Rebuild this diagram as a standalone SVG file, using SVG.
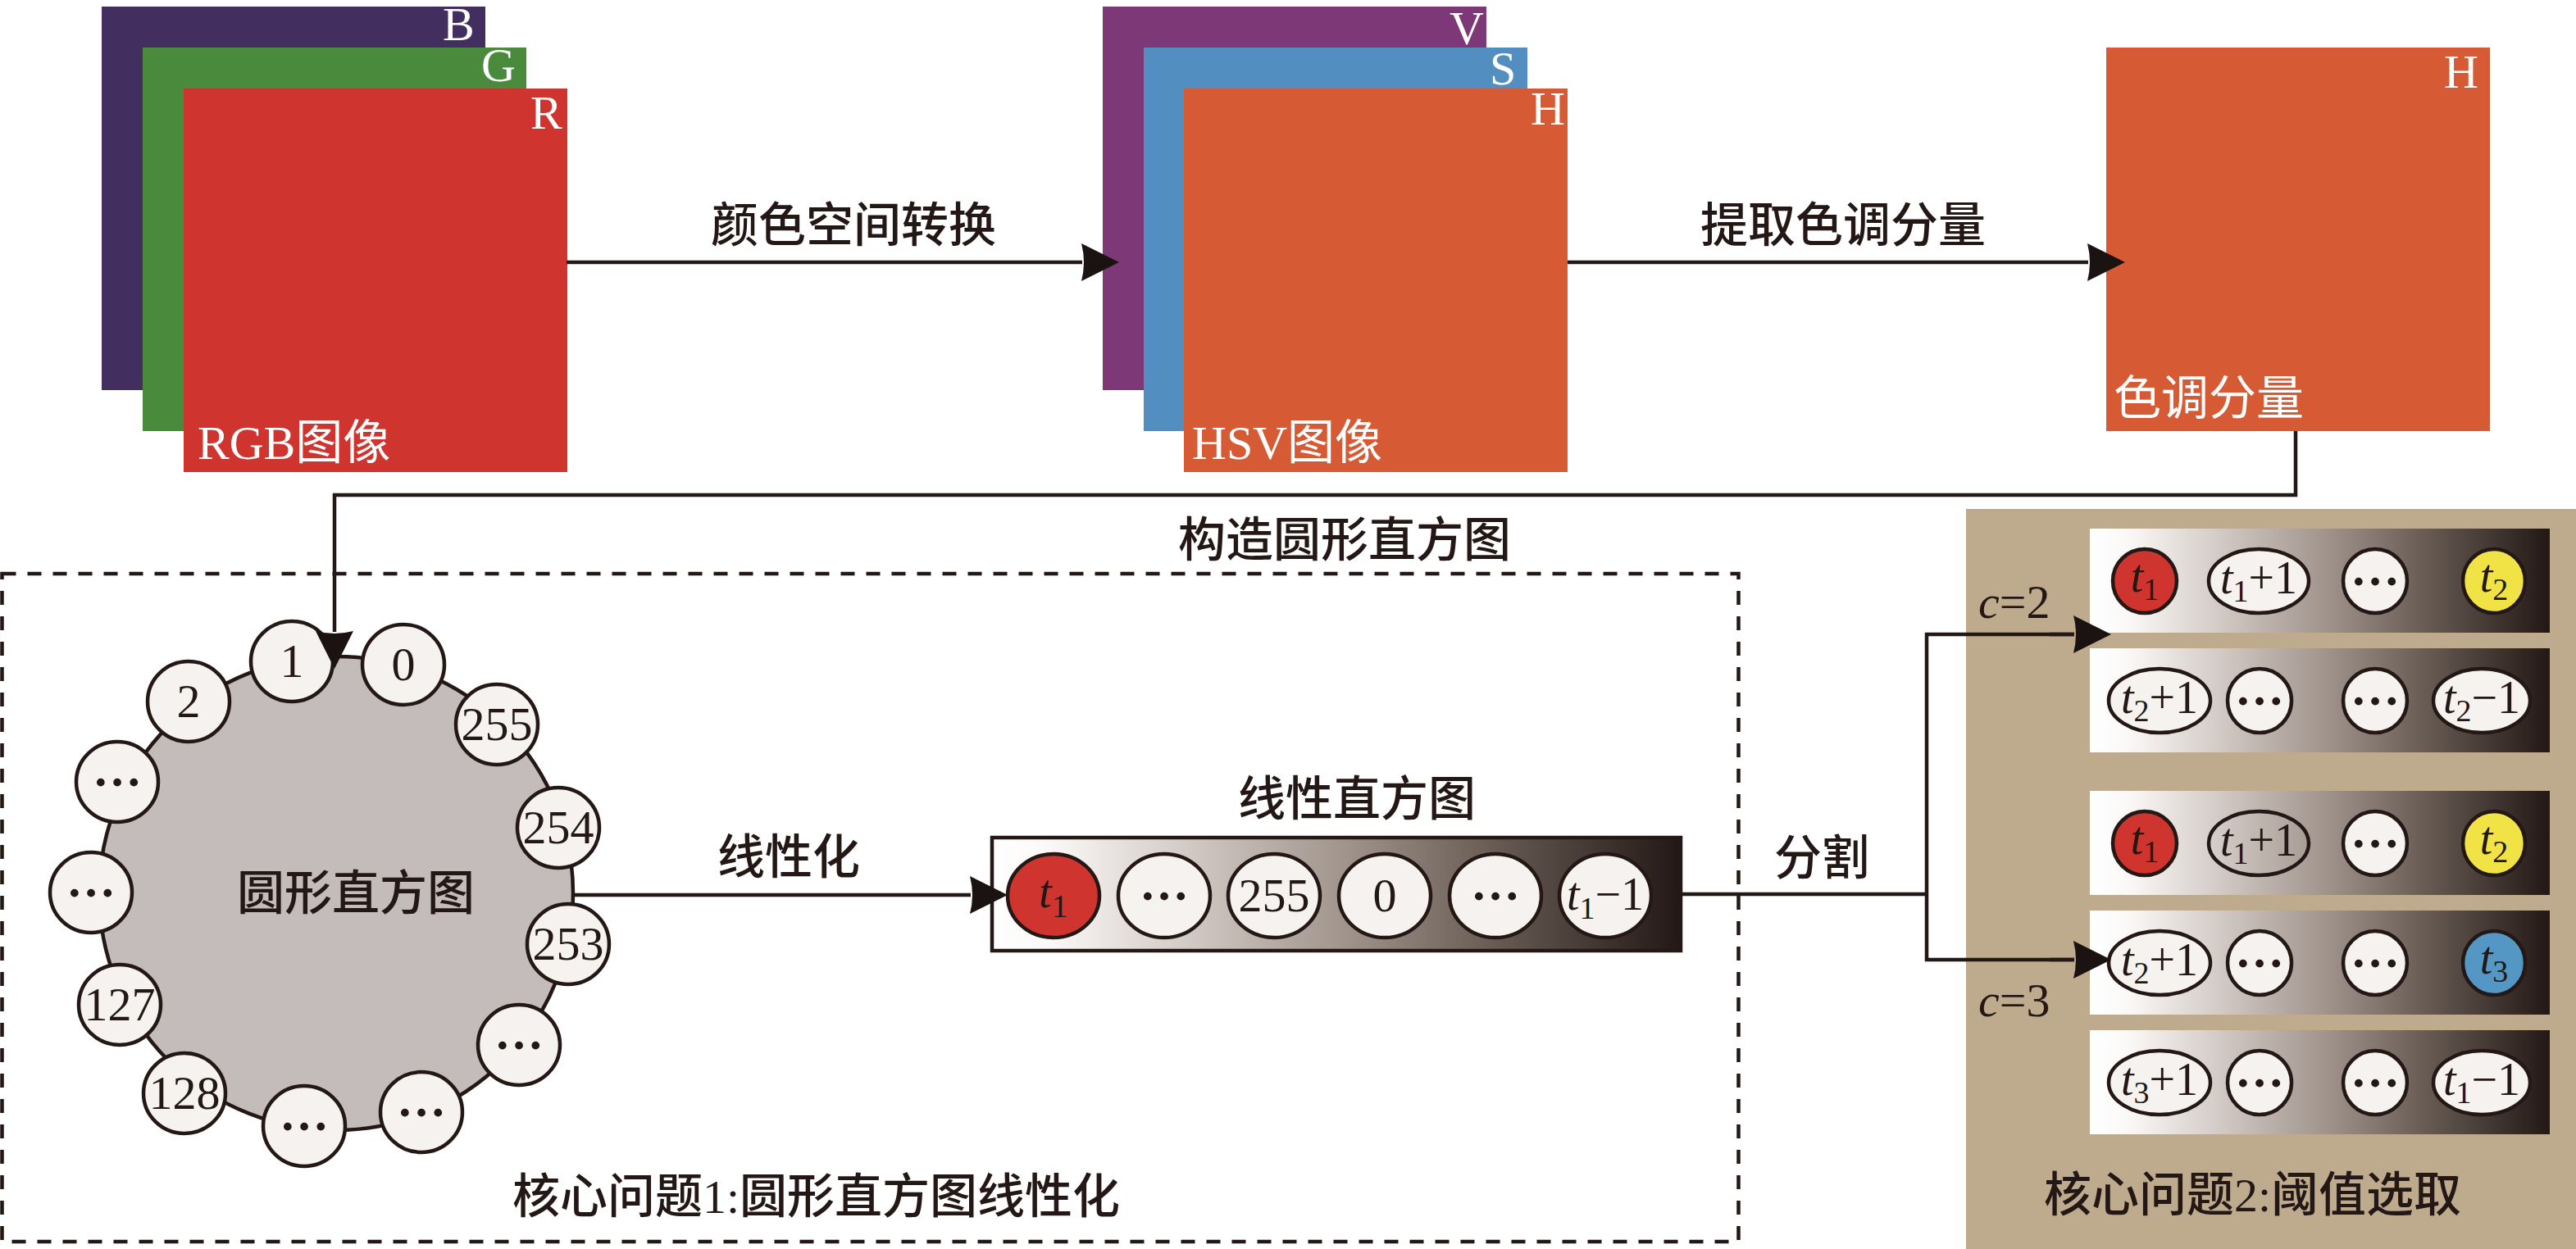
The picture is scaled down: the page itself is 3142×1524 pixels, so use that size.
<svg xmlns="http://www.w3.org/2000/svg" width="3142" height="1524" viewBox="0 0 3142 1524">
<defs>
<style>
.cjk{font-family:"Liberation Serif","Noto Sans CJK SC",serif;font-size:58px;font-weight:500;fill:#231815;}
.wt{font-family:"Liberation Serif","Noto Sans CJK SC",serif;font-size:58px;fill:#FFFFFF;}
.num{font-family:"Liberation Serif",serif;font-size:58px;fill:#231815;text-anchor:middle;}
.lab{font-family:"Liberation Serif",serif;font-size:58px;fill:#231815;}
.dots{font-family:"Liberation Serif",serif;font-weight:bold;font-size:60px;fill:#231815;text-anchor:middle;}
.tv{font-family:"Liberation Serif",serif;font-size:56px;fill:#231815;text-anchor:middle;}
.el{fill:#F5F2F0;stroke:#231815;stroke-width:4.5;}
.er{fill:#CF352E;stroke:#231815;stroke-width:4.5;}
.ey{fill:#F1E245;stroke:#231815;stroke-width:4.5;}
.eb{fill:#5497C5;stroke:#231815;stroke-width:4.5;}
.eo{fill:none;stroke:#231815;stroke-width:4.5;}
.ln{fill:none;stroke:#231815;stroke-width:4.5;}
</style>
<linearGradient id="grad" x1="0" y1="0" x2="1" y2="0">
<stop offset="0" stop-color="#FFFFFF"/>
<stop offset="0.08" stop-color="#FBF9F8"/>
<stop offset="0.3" stop-color="#CFC6C1"/>
<stop offset="0.5" stop-color="#A3978F"/>
<stop offset="0.75" stop-color="#62564F"/>
<stop offset="1" stop-color="#231815"/>
</linearGradient>
<marker id="ah" markerUnits="userSpaceOnUse" markerWidth="52" markerHeight="52" viewBox="-26 -26 52 52" refX="-25" refY="0" orient="auto" overflow="visible">
<path d="M20,0 L-26,-23 Q-20,0 -26,23 Z" fill="#1A1311"/>
</marker>
</defs>
<rect width="3142" height="1524" fill="#FFFFFF"/>

<g id="rgb-image">
<rect x="124" y="8" width="468" height="468" fill="#422F60"/>
<rect x="174" y="58" width="468" height="468" fill="#4A8A3D"/>
<rect x="224" y="108" width="468" height="468" fill="#CF352E"/>
<text class="wt" x="540" y="49">B</text>
<text class="wt" x="587" y="99">G</text>
<text class="wt" x="647" y="157">R</text>
<text class="wt" x="241" y="560">RGB图像</text>
</g>

<g id="hsv-image">
<rect x="1345" y="8" width="468" height="468" fill="#7D3877"/>
<rect x="1395" y="58" width="468" height="468" fill="#528FC0"/>
<rect x="1444" y="108" width="468" height="468" fill="#D65A33"/>
<text class="wt" x="1768" y="54">V</text>
<text class="wt" x="1817" y="103">S</text>
<text class="wt" x="1867" y="152">H</text>
<text class="wt" x="1454" y="560">HSV图像</text>
</g>

<g id="hue-component">
<rect x="2569" y="58" width="468" height="468" fill="#D65A33"/>
<text class="wt" x="2981" y="107">H</text>
<text class="wt" x="2578" y="506">色调分量</text>
</g>

<g id="edge-labels">
<text class="cjk" x="1041" y="295" text-anchor="middle">颜色空间转换</text>
<text class="cjk" x="2248" y="295" text-anchor="middle">提取色调分量</text>
<text class="cjk" x="1640" y="679" text-anchor="middle">构造圆形直方图</text>
<text class="cjk" x="962" y="1066" text-anchor="middle">线性化</text>
<text class="cjk" x="2222" y="1067" text-anchor="middle">分割</text>
</g>

<g id="core-problem-1">
<rect x="2.5" y="700" width="2118" height="815" fill="none" stroke="#231815" stroke-width="4.5" stroke-dasharray="17 14"/>
<text class="cjk" x="625" y="1480">核心问题1:圆形直方图线性化</text>
</g>

<g id="circular-histogram">
<circle cx="410" cy="1090" r="289" fill="#C4BCBA" stroke="#231815" stroke-width="4.5"/>
<text class="cjk" x="434" y="1110" text-anchor="middle">圆形直方图</text>
<ellipse class="el" cx="356" cy="807" rx="50" ry="49"/><text class="num" x="356" y="826">1</text>
<ellipse class="el" cx="492" cy="811" rx="50" ry="49"/><text class="num" x="492" y="830">0</text>
<ellipse class="el" cx="606" cy="884" rx="50" ry="49"/><text class="num" x="606" y="903">255</text>
<ellipse class="el" cx="681" cy="1010" rx="50" ry="49"/><text class="num" x="681" y="1029">254</text>
<ellipse class="el" cx="693" cy="1152" rx="50" ry="49"/><text class="num" x="693" y="1171">253</text>
<ellipse class="el" cx="633" cy="1275" rx="50" ry="49"/><text class="dots" x="633" y="1280">…</text>
<ellipse class="el" cx="514" cy="1357" rx="50" ry="49"/><text class="dots" x="514" y="1362">…</text>
<ellipse class="el" cx="371" cy="1374" rx="50" ry="49"/><text class="dots" x="371" y="1379">…</text>
<ellipse class="el" cx="225" cy="1334" rx="50" ry="49"/><text class="num" x="225" y="1353">128</text>
<ellipse class="el" cx="146" cy="1226" rx="50" ry="49"/><text class="num" x="146" y="1245">127</text>
<ellipse class="el" cx="111" cy="1089" rx="50" ry="49"/><text class="dots" x="111" y="1094">…</text>
<ellipse class="el" cx="143" cy="954" rx="50" ry="49"/><text class="dots" x="143" y="959">…</text>
<ellipse class="el" cx="230" cy="856" rx="50" ry="49"/><text class="num" x="230" y="875">2</text>
</g>

<g id="linear-histogram">
<text class="cjk" x="1655" y="995" text-anchor="middle">线性直方图</text>
<rect x="1210" y="1022" width="840" height="138" fill="url(#grad)" stroke="#231815" stroke-width="4.5"/>
<ellipse class="er" cx="1285" cy="1093" rx="56" ry="51"/>
<text class="tv" x="1285" y="1107" font-size="58"><tspan font-style="italic">t</tspan><tspan font-size="40" dy="12">1</tspan></text>
<ellipse class="el" cx="1420" cy="1093" rx="56" ry="51"/><text class="dots" x="1420" y="1098">…</text>
<ellipse class="el" cx="1554" cy="1093" rx="56" ry="51"/><text class="num" x="1554" y="1112">255</text>
<ellipse class="el" cx="1689" cy="1093" rx="56" ry="51"/><text class="num" x="1689" y="1112">0</text>
<ellipse class="el" cx="1824" cy="1093" rx="56" ry="51"/><text class="dots" x="1824" y="1098">…</text>
<ellipse class="el" cx="1958" cy="1093" rx="56" ry="51"/>
<text class="tv" x="1958" y="1110" font-size="54"><tspan font-style="italic">t</tspan><tspan font-size="38" dy="11">1</tspan><tspan dy="-11">−1</tspan></text>
</g>

<g id="core-problem-2">
<rect x="2398" y="621" width="744" height="903" fill="#BEAB8E"/>
<text class="lab" x="2413" y="754"><tspan font-style="italic">c</tspan>=2</text>
<text class="lab" x="2413" y="1240"><tspan font-style="italic">c</tspan>=3</text>
<text class="cjk" x="2493" y="1478">核心问题2:阈值选取</text>
</g>

<g id="c2-row1">
<rect x="2549" y="645" width="561" height="127" fill="url(#grad)"/>
<ellipse class="er" cx="2616" cy="709" rx="39" ry="39"/>
<text class="tv" x="2616" y="722"><tspan font-style="italic">t</tspan><tspan font-size="38" dy="10">1</tspan></text>
<ellipse class="el" cx="2755" cy="709" rx="61" ry="39"/>
<text class="tv" x="2755" y="724"><tspan font-style="italic">t</tspan><tspan font-size="38" dy="10">1</tspan><tspan dy="-10">+1</tspan></text>
<ellipse class="el" cx="2897" cy="709" rx="39" ry="39"/><text class="dots" x="2897" y="714">…</text>
<ellipse class="ey" cx="3042" cy="709" rx="38" ry="39"/>
<text class="tv" x="3042" y="722"><tspan font-style="italic">t</tspan><tspan font-size="38" dy="10">2</tspan></text>
</g>

<g id="c2-row2">
<rect x="2549" y="791" width="561" height="127" fill="url(#grad)"/>
<ellipse class="el" cx="2634" cy="855" rx="62" ry="39"/>
<text class="tv" x="2634" y="870"><tspan font-style="italic">t</tspan><tspan font-size="38" dy="10">2</tspan><tspan dy="-10">+1</tspan></text>
<ellipse class="el" cx="2756" cy="855" rx="39" ry="39"/><text class="dots" x="2756" y="860">…</text>
<ellipse class="el" cx="2897" cy="855" rx="39" ry="39"/><text class="dots" x="2897" y="860">…</text>
<ellipse class="el" cx="3027" cy="855" rx="59" ry="39"/>
<text class="tv" x="3027" y="870"><tspan font-style="italic">t</tspan><tspan font-size="38" dy="10">2</tspan><tspan dy="-10">−1</tspan></text>
</g>

<g id="c3-row1">
<rect x="2549" y="965" width="561" height="127" fill="url(#grad)"/>
<ellipse class="er" cx="2616" cy="1029" rx="39" ry="39"/>
<text class="tv" x="2616" y="1042"><tspan font-style="italic">t</tspan><tspan font-size="38" dy="10">1</tspan></text>
<ellipse class="eo" cx="2755" cy="1029" rx="61" ry="39"/>
<text class="tv" x="2755" y="1044"><tspan font-style="italic">t</tspan><tspan font-size="38" dy="10">1</tspan><tspan dy="-10">+1</tspan></text>
<ellipse class="el" cx="2897" cy="1029" rx="39" ry="39"/><text class="dots" x="2897" y="1034">…</text>
<ellipse class="ey" cx="3042" cy="1029" rx="38" ry="39"/>
<text class="tv" x="3042" y="1042"><tspan font-style="italic">t</tspan><tspan font-size="38" dy="10">2</tspan></text>
</g>

<g id="c3-row2">
<rect x="2549" y="1111" width="561" height="127" fill="url(#grad)"/>
<ellipse class="el" cx="2634" cy="1175" rx="62" ry="39"/>
<text class="tv" x="2634" y="1190"><tspan font-style="italic">t</tspan><tspan font-size="38" dy="10">2</tspan><tspan dy="-10">+1</tspan></text>
<ellipse class="el" cx="2756" cy="1175" rx="39" ry="39"/><text class="dots" x="2756" y="1180">…</text>
<ellipse class="el" cx="2897" cy="1175" rx="39" ry="39"/><text class="dots" x="2897" y="1180">…</text>
<ellipse class="eb" cx="3042" cy="1175" rx="38" ry="39"/>
<text class="tv" x="3042" y="1188"><tspan font-style="italic">t</tspan><tspan font-size="38" dy="10">3</tspan></text>
</g>

<g id="c3-row3">
<rect x="2549" y="1257" width="561" height="127" fill="url(#grad)"/>
<ellipse class="el" cx="2634" cy="1321" rx="62" ry="39"/>
<text class="tv" x="2634" y="1336"><tspan font-style="italic">t</tspan><tspan font-size="38" dy="10">3</tspan><tspan dy="-10">+1</tspan></text>
<ellipse class="el" cx="2756" cy="1321" rx="39" ry="39"/><text class="dots" x="2756" y="1326">…</text>
<ellipse class="el" cx="2897" cy="1321" rx="39" ry="39"/><text class="dots" x="2897" y="1326">…</text>
<ellipse class="el" cx="3027" cy="1321" rx="59" ry="39"/>
<text class="tv" x="3027" y="1336"><tspan font-style="italic">t</tspan><tspan font-size="38" dy="10">1</tspan><tspan dy="-10">−1</tspan></text>
</g>

<g id="connectors">
<line class="ln" x1="691" y1="320" x2="1320" y2="320" marker-end="url(#ah)"/>
<line class="ln" x1="1912" y1="320" x2="2547" y2="320" marker-end="url(#ah)"/>
<polyline class="ln" points="2800,526 2800,604 408,604 408,771" marker-end="url(#ah)"/>
<line class="ln" x1="698" y1="1092" x2="1184" y2="1092" marker-end="url(#ah)"/>
<polyline class="ln" points="2052,1091 2350,1091"/>
<polyline class="ln" points="2530,774 2350,774 2350,1171 2530,1171"/>
<line class="ln" x1="2500" y1="774" x2="2530" y2="774" marker-end="url(#ah)"/>
<line class="ln" x1="2500" y1="1171" x2="2530" y2="1171" marker-end="url(#ah)"/>
</g>
</svg>
